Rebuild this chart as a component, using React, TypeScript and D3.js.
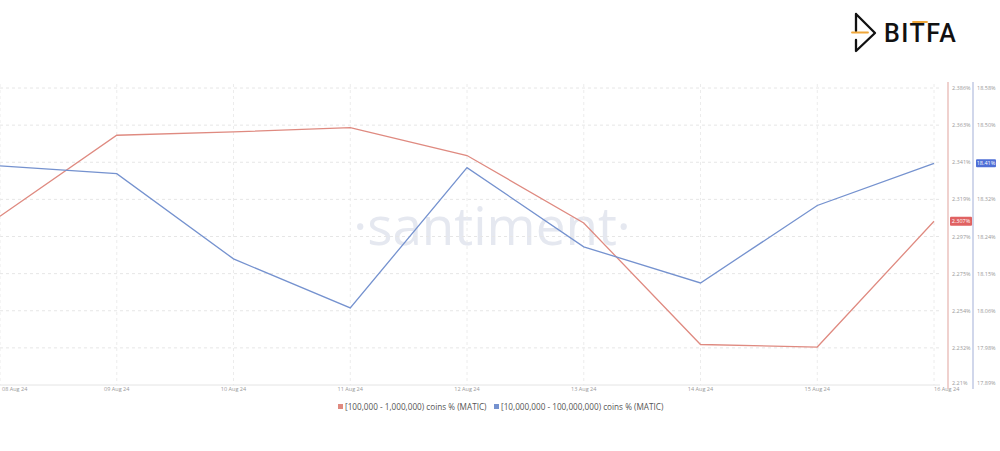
import React from 'react';
import * as d3 from 'd3';

// Dates on the x axis
const dates = ['08 Aug 24', '09 Aug 24', '10 Aug 24', '11 Aug 24', '12 Aug 24', '13 Aug 24', '14 Aug 24', '15 Aug 24', '16 Aug 24'];

// [100,000 - 1,000,000) coins % (MATIC)
const midHolders = [2.310, 2.358, 2.360, 2.3625, 2.346, 2.306, 2.234, 2.2325, 2.307];
// [10,000,000 - 100,000,000) coins % (MATIC)
const whaleHolders = [18.399, 18.381, 18.183, 18.069, 18.395, 18.211, 18.127, 18.307, 18.405];

const midTickValues = [2.386, 2.364, 2.342, 2.320, 2.298, 2.276, 2.254, 2.232, 2.21];
const midTickLabels = ['2.386%', '2.363%', '2.341%', '2.319%', '2.297%', '2.275%', '2.254%', '2.232%', '2.21%'];
const whaleTickValues = [18.58, 18.494, 18.407, 18.321, 18.235, 18.149, 18.063, 17.976, 17.89];
const whaleTickLabels = ['18.58%', '18.50%', '18.41%', '18.32%', '18.24%', '18.15%', '18.06%', '17.98%', '17.89%'];

const seriesNames = ['[100,000  - 1,000,000) coins % (MATIC)', '[10,000,000 - 100,000,000) coins % (MATIC)'];
const midLast = '2.307%';
const whaleLast = '18.41%';

const W = 1000;
const H = 451;
const RED = '#df8a80';
const BLUE = '#7592cf';
const FONT = "'Open Sans', 'DejaVu Sans', sans-serif";

export default function App() {
  const top = 88;
  const bottom = 385;
  const x = d3.scalePoint<string>().domain(dates).range([0, 934]);
  const yMid = d3.scaleLinear().domain([2.21, 2.386]).range([bottom, top]);
  const yWhale = d3.scaleLinear().domain([17.89, 18.58]).range([bottom, top]);

  const midLine = d3.line<number>()
    .x((_, i) => x(dates[i]) as number)
    .y(d => yMid(d));
  const whaleLine = d3.line<number>()
    .x((_, i) => x(dates[i]) as number)
    .y(d => yWhale(d));

  const redAxisX = 948;
  const blueAxisX = 973;
  const midLastY = yMid(midHolders[midHolders.length - 1]);
  const whaleLastY = yWhale(whaleHolders[whaleHolders.length - 1]);

  return (
    <div style={{ position: 'absolute', left: 0, top: 0, width: W, height: H, background: '#fff' }}>
      <svg width={W} height={H} style={{ display: 'block', fontFamily: FONT }}>
        <rect width={W} height={H} fill="#fff" />

        {/* logo */}
        <g fill="none" strokeLinecap="round" strokeLinejoin="round">
          <path d="M856,14 L856,31 M856,14 L875,33 L856,51 L856,40" stroke="#111" strokeWidth={2.3} />
          <line x1={852} x2={868} y1={32.5} y2={32.5} stroke="#f0a73a" strokeWidth={1.8} />
          <line x1={913} x2={927} y1={22} y2={22} stroke="#f0a73a" strokeWidth={1.8} />
        </g>
        <text x={884} y={41.5} fontSize={25} fontWeight={500} fontFamily="Roboto, sans-serif" fill="#111" letterSpacing={1.5}>BITFA</text>

        {/* watermark */}
        <text x={492} y={245} textAnchor="middle" fontSize={53} fontWeight={400} fill="#e5e8f0" fontFamily="'Open Sans', sans-serif">·santiment·</text>

        {/* horizontal grid */}
        {midTickValues.slice(0, -1).map(v => (
          <line key={`h${v}`} x1={0} x2={940} y1={yMid(v)} y2={yMid(v)} stroke="#e6e6e6" strokeDasharray="3,3" />
        ))}
        {/* vertical grid */}
        {dates.map(d => (
          <line key={`v${d}`} x1={x(d)} x2={x(d)} y1={top - 4} y2={bottom} stroke="#ececec" strokeDasharray="3,3" />
        ))}
        <line x1={0} x2={940} y1={bottom} y2={bottom} stroke="#e4e4e4" />

        {/* series */}
        <path d={midLine(midHolders) ?? ''} fill="none" stroke={RED} strokeWidth={1.3} />
        <path d={whaleLine(whaleHolders) ?? ''} fill="none" stroke={BLUE} strokeWidth={1.3} />

        {/* x labels */}
        {dates.map((d, i) => (
          <text key={`xl${d}`} x={(x(d) as number) + (i === 0 ? 2 : 0)} y={391}
            textAnchor={i === 0 || i === dates.length - 1 ? 'start' : 'middle'}
            fontSize={5.5} fill="#999">{d}</text>
        ))}

        {/* right axes */}
        <line x1={redAxisX} x2={redAxisX} y1={82} y2={389} stroke="#ecc6c2" strokeWidth={1.6} />
        <line x1={blueAxisX} x2={blueAxisX} y1={82} y2={389} stroke="#c6cde6" strokeWidth={1.6} />
        {midTickValues.map((v, i) => (
          <text key={`rt${v}`} x={redAxisX + 4} y={yMid(v) + (i === midTickValues.length - 1 ? 0 : 2)} fontSize={5.5} fill="#9a9a9a">{midTickLabels[i]}</text>
        ))}
        {whaleTickValues.map((v, i) => (
          <text key={`bt${v}`} x={blueAxisX + 4} y={yWhale(v) + (i === whaleTickValues.length - 1 ? 0 : 2)} fontSize={5.5} fill="#9a9a9a">{whaleTickLabels[i]}</text>
        ))}

        {/* last value badges */}
        <rect x={redAxisX + 2} y={midLastY - 4.5} width={22} height={9} rx={1} fill="#e06262" />
        <text x={redAxisX + 13} y={midLastY + 2} textAnchor="middle" fontSize={5.5} fill="#fff">{midLast}</text>
        <rect x={blueAxisX + 3} y={whaleLastY - 4} width={20} height={8} rx={1} fill="#4f6fd6" />
        <text x={blueAxisX + 13} y={whaleLastY + 2} textAnchor="middle" fontSize={5.5} fill="#fff">{whaleLast}</text>

        {/* legend */}
        <rect x={338} y={404} width={5} height={5} fill={RED} />
        <text x={345} y={409.5} fontSize={8.2} fill="#555">{seriesNames[0]}</text>
        <rect x={494} y={404} width={5} height={5} fill={BLUE} />
        <text x={501} y={409.5} fontSize={8.2} fill="#555">{seriesNames[1]}</text>
      </svg>
    </div>
  );
}
